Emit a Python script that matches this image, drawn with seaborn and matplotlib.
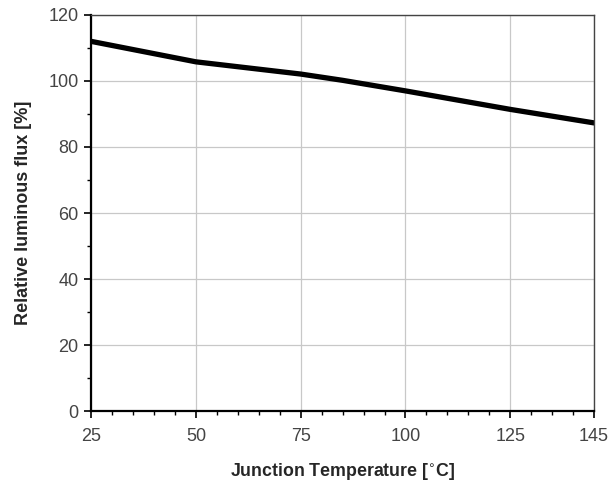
import matplotlib
matplotlib.use("Agg")
import matplotlib.pyplot as plt
import seaborn as sns
import pandas as pd
from matplotlib.ticker import MultipleLocator, FixedLocator

# data
temperature = [25, 50, 75, 85, 100, 125, 145]
flux = [112.0, 105.8, 102.1, 100.2, 97.0, 91.4, 87.3]
x_ticks = [25, 50, 75, 100, 125, 145]
y_ticks = [0, 20, 40, 60, 80, 100, 120]

df = pd.DataFrame({"temp": temperature, "flux": flux})

sns.set_style("white")
plt.rcParams["font.family"] = ["Liberation Sans", "DejaVu Sans"]

fig = plt.figure(figsize=(6.08, 4.83), dpi=100)
ax = fig.add_axes([0.150, 0.149, 0.827, 0.820])

sns.lineplot(data=df, x="temp", y="flux", color="black", linewidth=3.8, ax=ax)

ax.set_xlim(25, 145)
ax.set_ylim(0, 120)
ax.xaxis.set_major_locator(FixedLocator(x_ticks))
ax.xaxis.set_minor_locator(MultipleLocator(5))
ax.yaxis.set_major_locator(FixedLocator(y_ticks))
ax.yaxis.set_minor_locator(MultipleLocator(10))

ax.grid(True, which="major", color="#c8c8c8", linewidth=0.9)
ax.set_axisbelow(True)

for side in ["left", "bottom"]:
    ax.spines[side].set_color("black")
    ax.spines[side].set_linewidth(1.6)
for side in ["top", "right"]:
    ax.spines[side].set_color("#444444")
    ax.spines[side].set_linewidth(1.0)
    ax.spines[side].set_visible(True)

ax.tick_params(which="major", direction="out", length=5, width=1.2,
               color="black", labelsize=13, labelcolor="#444444",
               left=True, bottom=True)
ax.tick_params(which="minor", direction="out", length=3, width=1.0,
               color="black", left=True, bottom=True)
ax.tick_params(axis="x", pad=7)
ax.tick_params(axis="y", pad=4)

ax.set_xlabel("Junction Temperature [$^{\\circ}$C]", fontsize=12.8,
              fontweight="bold", labelpad=12)
ax.set_ylabel("Relative luminous flux [%]", fontsize=13,
              fontweight="bold", labelpad=12)

fig.savefig("out.png", dpi=100)
